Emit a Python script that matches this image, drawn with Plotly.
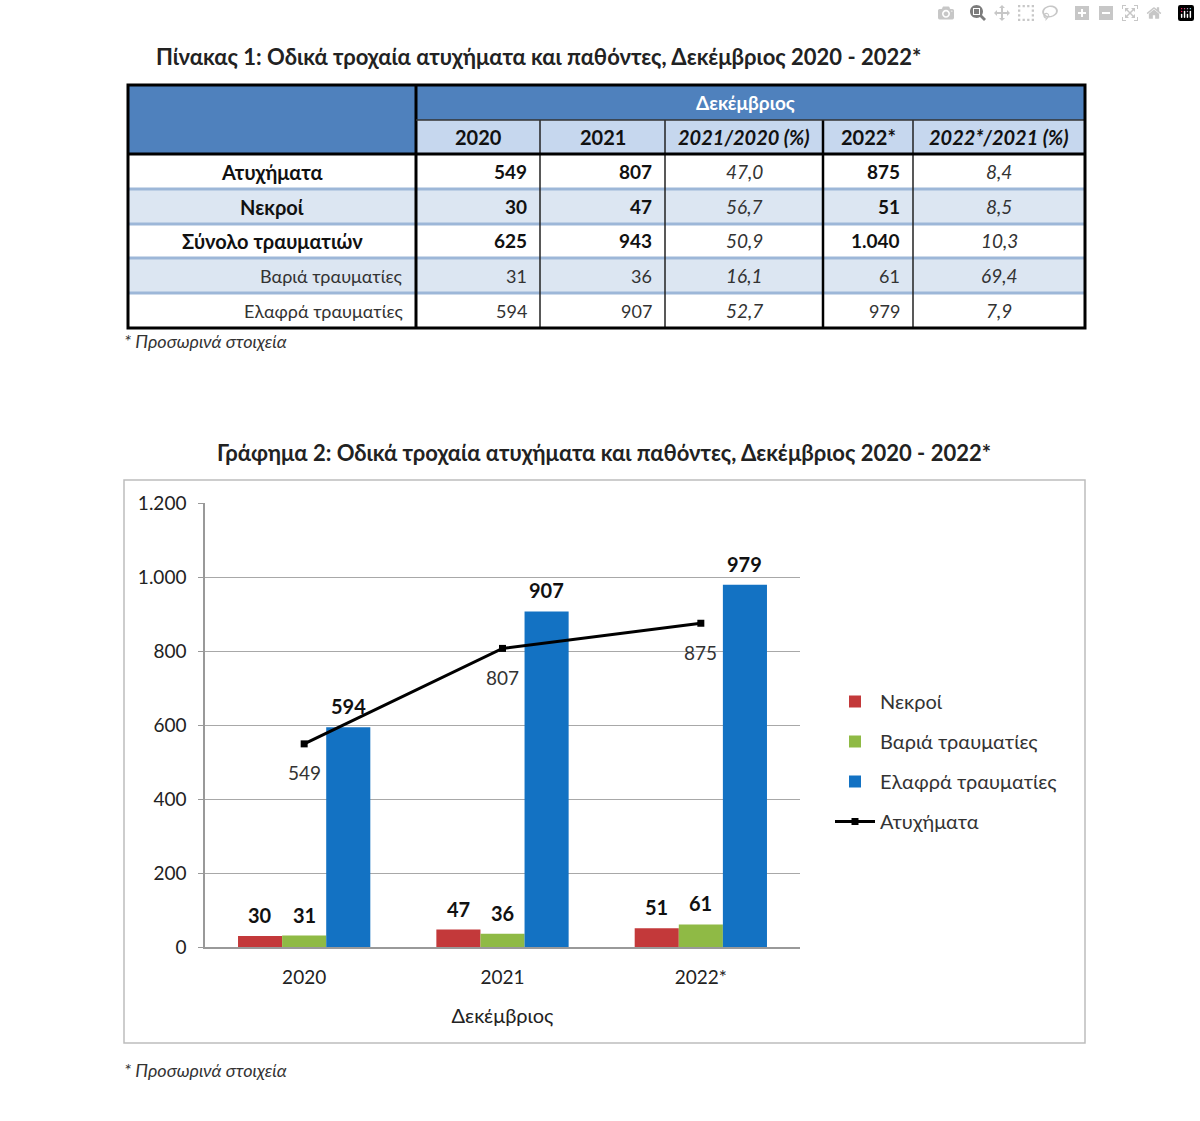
import plotly.graph_objects as go

# ---------------- data ----------------
years = ["2020", "2021", "2022*"]
nekroi = [30, 47, 51]
varia = [31, 36, 61]
elafra = [594, 907, 979]
atyx = [549, 807, 875]
synolo = [625, 943, 1040]

row_labels = ["Ατυχήματα", "Νεκροί", "Σύνολο τραυματιών", "Βαριά τραυματίες", "Ελαφρά τραυματίες"]
col_headers = ["2020", "2021", "2021/2020 (%)", "2022*", "2022*/2021 (%)"]
pct_21_20 = [47.0, 56.7, 50.9, 16.1, 52.7]
pct_22_21 = [8.4, 8.5, 10.3, 69.4, 7.9]

table_title = "Πίνακας 1: Οδικά τροχαία ατυχήματα και παθόντες, Δεκέμβριος 2020 - 2022*"
chart_title = "Γράφημα 2: Οδικά τροχαία ατυχήματα και παθόντες, Δεκέμβριος 2020 - 2022*"
group_header = "Δεκέμβριος"
footnote = "* Προσωρινά στοιχεία"

# ---------------- helpers ----------------
W, H = 1200, 1121
FONT = "Lato, 'Open Sans', sans-serif"


def X(p):
    return p / W


def Y(p):
    return 1 - p / H


def fmt_int(v):
    return f"{v:,}".replace(",", ".")


def fmt_pct(v):
    return f"{v:.1f}".replace(".", ",")


RED = "#C3393A"
GREEN = "#8FBA45"
BLUE = "#1372C3"

xpos = list(range(len(years)))  # category slots on the x axis

fig = go.Figure()

fig.add_trace(go.Bar(x=xpos, y=nekroi, name="Νεκροί", marker=dict(color=RED, line=dict(width=0)),
                     legendgroup="a", customdata=years, hovertemplate="%{customdata}: %{y}"))
fig.add_trace(go.Bar(x=xpos, y=varia, name="Βαριά τραυματίες", marker=dict(color=GREEN, line=dict(width=0)),
                     legendgroup="b", customdata=years, hovertemplate="%{customdata}: %{y}"))
fig.add_trace(go.Bar(x=xpos, y=elafra, name="Ελαφρά τραυματίες", marker=dict(color=BLUE, line=dict(width=0)),
                     legendgroup="c", customdata=years, hovertemplate="%{customdata}: %{y}"))
fig.add_trace(go.Scatter(x=xpos, y=atyx, name="Ατυχήματα", mode="lines+markers",
                         line=dict(color="black", width=3), customdata=years, hovertemplate="%{customdata}: %{y}",
                         marker=dict(symbol="square", size=7, color="black"), legendgroup="d"))

annotations = []
shapes = []

# bar value labels
for vals, dx in ((nekroi, -44), (varia, 0), (elafra, 44)):
    for xi, v in zip(xpos, vals):
        annotations.append(dict(x=xi, y=v, xref="x", yref="y", xshift=dx, yshift=21,
                                xanchor="center", yanchor="middle", text=f"<b>{fmt_int(v)}</b>",
                                showarrow=False, font=dict(family=FONT, size=20, color="#111")))
# line value labels
for xi, v in zip(xpos, atyx):
    annotations.append(dict(x=xi, y=v, xref="x", yref="y", yshift=-29, xanchor="center", yanchor="middle",
                            text=fmt_int(v), showarrow=False, font=dict(family=FONT, size=19, color="#333")))


def txt(x, y, s, size=19, color="#111", anchor="center"):
    annotations.append(dict(x=X(x), y=Y(y), xref="paper", yref="paper", xanchor=anchor, yanchor="middle",
                            text=s, showarrow=False, font=dict(family=FONT, size=size, color=color)))


# titles and footnotes
txt(538, 57, f"<b>{table_title}</b>", 22, "#222")
txt(604, 452, f"<b>{chart_title}</b>", 22, "#222")
for fy in (341, 1070):
    txt(122, fy, f"<i>{footnote}</i>", 18, "#333", "left")

# chart frame
shapes.append(dict(type="rect", xref="paper", yref="paper", x0=X(124), x1=X(1085), y0=Y(1043), y1=Y(480),
                   line=dict(color="#BDBDBD", width=1.5), layer="below"))

# ---------------- table ----------------
cx = [128, 416, 540, 665, 823, 913, 1085]
ry = [85, 120, 154, 189, 224, 258, 293, 328]
DARK = "#4F81BD"
LIGHT_H = "#C6D7EE"
LIGHT_R = "#DCE6F2"


def rect(x0, y0, x1, y1, fill, lw=0, lc="black"):
    shapes.append(dict(type="rect", xref="paper", yref="paper", x0=X(x0), x1=X(x1), y0=Y(y1), y1=Y(y0),
                       fillcolor=fill, line=dict(width=lw, color=lc), layer="above"))


def line(x0, y0, x1, y1, w, c="black"):
    shapes.append(dict(type="line", xref="paper", yref="paper", x0=X(x0), x1=X(x1), y0=Y(y0), y1=Y(y1),
                       line=dict(width=w, color=c), layer="above"))


rect(cx[0], ry[0], cx[1], ry[2], DARK)
rect(cx[1], ry[0], cx[6], ry[1], DARK)
rect(cx[1], ry[1], cx[6], ry[2], LIGHT_H)
for i in range(len(row_labels)):
    rect(cx[0], ry[2 + i], cx[6], ry[3 + i], LIGHT_R if i % 2 == 1 else "white")
# row separators
for i in range(1, len(row_labels)):
    line(cx[0], ry[2 + i], cx[6], ry[2 + i], 3, "#9DB7D8")
# vertical lines
for c in (cx[2], cx[3], cx[5]):
    line(c, ry[1], c, ry[7], 1.5, "#222")
line(cx[4], ry[1], cx[4], ry[7], 2.5)
line(cx[1], ry[0], cx[1], ry[7], 3)
line(cx[1], ry[1], cx[6], ry[1], 1.5, "#333")
line(cx[0], ry[2], cx[6], ry[2], 3)
rect(cx[0], ry[0], cx[6], ry[7], "rgba(0,0,0,0)", 3)

txt((cx[1] + cx[6]) / 2 - 5, (ry[0] + ry[1]) / 2, f"<b>{group_header}</b>", 19, "white")
for j, h in enumerate(col_headers):
    s = f"<b><i>{h}</i></b>" if "%" in h else f"<b>{h}</b>"
    txt((cx[1 + j] + cx[2 + j]) / 2, (ry[1] + ry[2]) / 2, s, 20, "#111")

tbl_vals = {
    "2020": [atyx[0], nekroi[0], synolo[0], varia[0], elafra[0]],
    "2021": [atyx[1], nekroi[1], synolo[1], varia[1], elafra[1]],
    "2022*": [atyx[2], nekroi[2], synolo[2], varia[2], elafra[2]],
}
for i, lab in enumerate(row_labels):
    yc = (ry[2 + i] + ry[3 + i]) / 2
    bold = i < 3
    if bold:
        txt((cx[0] + cx[1]) / 2, yc, f"<b>{lab}</b>", 20, "#111")
    else:
        txt(cx[1] - 11, yc, lab, 18, "#333", "right")
    for col_i, yr in ((2, "2020"), (3, "2021"), (5, "2022*")):
        v = fmt_int(tbl_vals[yr][i])
        txt(cx[col_i] - 11, yc, f"<b>{v}</b>" if bold else v, 19 if bold else 18,
            "#111" if bold else "#333", "right")
    txt((cx[3] + cx[4]) / 2, yc, f"<i>{fmt_pct(pct_21_20[i])}</i>", 19, "#333")
    txt((cx[5] + cx[6]) / 2, yc, f"<i>{fmt_pct(pct_22_21[i])}</i>", 19, "#333")

fig.update_layout(
    width=W, height=H, margin=dict(l=0, r=0, t=0, b=0, autoexpand=False),
    paper_bgcolor="white", plot_bgcolor="white",
    separators=",.",
    barmode="group", bargap=0.333, bargroupgap=0,
    font=dict(family=FONT, size=19, color="#222"),
    showlegend=True,
    legend=dict(x=X(830), y=Y(682), xanchor="left", yanchor="top", font=dict(family=FONT, size=20, color="#333"),
                tracegroupgap=11, bgcolor="rgba(0,0,0,0)", itemwidth=40),
    xaxis=dict(type="linear", range=[-0.5, len(years) - 0.5], tickvals=xpos, ticktext=years,
               domain=[X(205), X(800)], showline=True, linecolor="#999", linewidth=1.5, showgrid=False,
               zeroline=False, ticks="", automargin=False, ticklabelstandoff=12,
               tickfont=dict(size=19, color="#222"),
               title=dict(text=group_header, standoff=22, font=dict(size=20, color="#222"))),
    yaxis=dict(domain=[Y(947), Y(503)], range=[0, 1200], dtick=200, tickformat=",.0f", automargin=False,
               showline=True, linecolor="#999", linewidth=1.5, gridcolor="#A8A8A8", gridwidth=1,
               ticks="outside", ticklen=5, tickcolor="#999", ticklabelstandoff=8,
               tickfont=dict(size=19, color="#222"), zeroline=False),
    annotations=annotations, shapes=shapes,
)

fig.write_html("out.html", post_script="document.body.style.margin='0';")
